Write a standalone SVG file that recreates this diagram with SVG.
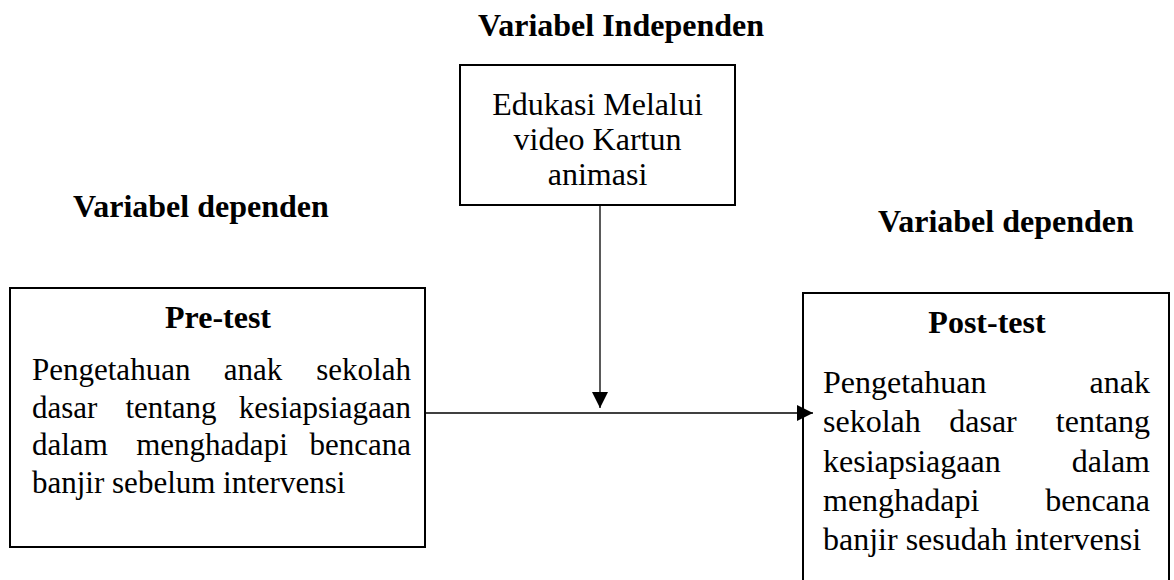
<svg xmlns="http://www.w3.org/2000/svg" width="1174" height="580" viewBox="0 0 1174 580">
<style>
.box{fill:#fff;stroke:#000;stroke-width:2}
.hd{font-family:"Liberation Serif","Times New Roman",serif;font-weight:bold;font-size:32px;fill:#000}
.tx{font-family:"Liberation Serif","Times New Roman",serif;font-size:31px;fill:#000}
.tx2{font-family:"Liberation Serif","Times New Roman",serif;font-size:32px;fill:#000}
.m{text-anchor:middle}
.e{text-anchor:end}
.conn{stroke:#000;stroke-width:1.3;fill:none}
</style>
<defs>
<marker id="arr" markerUnits="userSpaceOnUse" viewBox="0 0 16 16" refX="16" refY="8" markerWidth="16" markerHeight="16" orient="auto">
<path d="M0,0 L16,8 L0,16 z" fill="#000"/>
</marker>
</defs>
<rect width="1174" height="580" fill="#fff"/>
<g id="labels">
<text class="hd m" x="621" y="36">Variabel Independen</text>
<text class="hd" x="73" y="217">Variabel dependen</text>
<text class="hd" x="878" y="232">Variabel dependen</text>
</g>
<g id="node-independen">
<rect class="box" x="460" y="65" width="275" height="140"/>
<text class="tx2 m" x="597.5" y="115">Edukasi Melalui</text>
<text class="tx2 m" x="597.5" y="150">video Kartun</text>
<text class="tx2 m" x="597.5" y="185">animasi</text>
</g>
<g id="node-pretest">
<rect class="box" x="10" y="288" width="415" height="259"/>
<text class="hd m" x="218" y="328">Pre-test</text>
<text class="tx" x="32" y="380">Pengetahuan</text>
<text class="tx m" x="253" y="380">anak</text>
<text class="tx e" x="411" y="380">sekolah</text>
<text class="tx" x="32" y="418">dasar</text>
<text class="tx m" x="171" y="418">tentang</text>
<text class="tx e" x="411" y="418">kesiapsiagaan</text>
<text class="tx" x="32" y="455">dalam</text>
<text class="tx m" x="212" y="455">menghadapi</text>
<text class="tx e" x="411" y="455">bencana</text>
<text class="tx" x="32" y="493">banjir sebelum intervensi</text>
</g>
<g id="node-posttest">
<rect class="box" x="803" y="293" width="366" height="300"/>
<text class="hd m" x="987" y="333">Post-test</text>
<text class="tx2" x="823" y="393">Pengetahuan</text>
<text class="tx2 e" x="1150" y="393">anak</text>
<text class="tx2" x="823" y="432">sekolah</text>
<text class="tx2 m" x="983" y="432">dasar</text>
<text class="tx2 e" x="1150" y="432">tentang</text>
<text class="tx2" x="823" y="472">kesiapsiagaan</text>
<text class="tx2 e" x="1150" y="472">dalam</text>
<text class="tx2" x="823" y="511">menghadapi</text>
<text class="tx2 e" x="1150" y="511">bencana</text>
<text class="tx2" x="823" y="550">banjir sesudah intervensi</text>
</g>
<g id="connectors">
<line class="conn" x1="600" y1="205" x2="600" y2="408" marker-end="url(#arr)"/>
<line class="conn" x1="425" y1="413" x2="813" y2="413" marker-end="url(#arr)"/>
</g>
</svg>
